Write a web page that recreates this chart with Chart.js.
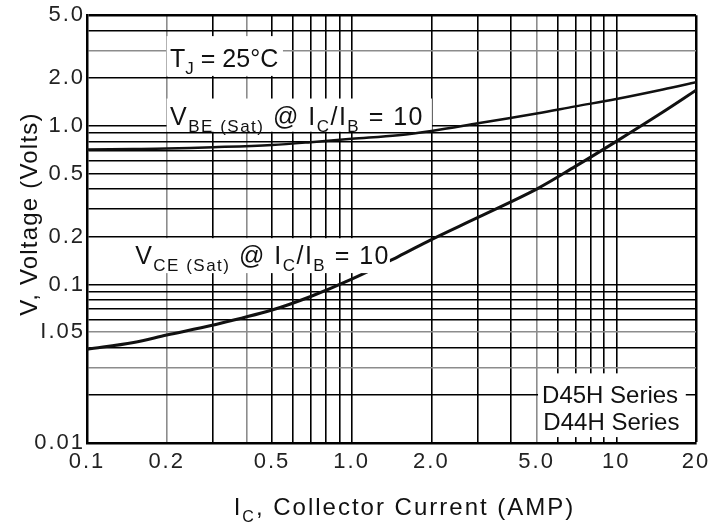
<!DOCTYPE html>
<html>
<head>
<meta charset="utf-8">
<script src="https://cdn.jsdelivr.net/npm/chart.js@4.4.1/dist/chart.umd.min.js"></script>
<style>
  html, body { margin: 0; padding: 0; background: #fff; }
</style>
</head>
<body>
<canvas id="chart" width="720" height="524"></canvas>
<script>
// collector current (A) and the two saturation curves (V)
const currentA = [0.1, 0.15, 0.2, 0.3, 0.5, 0.7, 1.0, 1.5, 2.0, 3.0, 5.0, 7.0, 10, 15, 20];
const vbeSat = [0.71, 0.715, 0.72, 0.735, 0.76, 0.79, 0.83, 0.875, 0.93, 1.04, 1.2, 1.33, 1.48, 1.7, 1.89];
const vceSat = [0.039, 0.0431, 0.048, 0.0555, 0.069, 0.084, 0.108, 0.150, 0.192, 0.265, 0.40, 0.556, 0.80, 1.225, 1.68];

// grid lines and tick labels
const xGrid = [0.1, 0.2, 0.3, 0.4, 0.5, 0.6, 0.7, 0.8, 0.9, 1, 2, 3, 4, 5, 6, 7, 8, 9, 10, 20];
const yGrid = [0.01, 0.02, 0.03, 0.04, 0.05, 0.06, 0.07, 0.08, 0.09, 0.1, 0.2, 0.3, 0.4, 0.5, 0.6, 0.7, 0.8, 0.9, 1, 2, 3, 4, 5];
const xTickValues = [0.1, 0.2, 0.5, 1, 2, 5, 10, 20];
const xTickText = ['0.1', '0.2', '0.5', '1.0', '2.0', '5.0', '10', '20'];
const yTickValues = [5, 2, 1, 0.5, 0.2, 0.1, 0.05, 0.01];
const yTickText = ['5.0', '2.0', '1.0', '0.5', '0.2', '0.1', 'I.05', '0.01'];
const greyX = [0.2, 0.4, 5];
const greyY = [0.03, 0.05, 3];

const FONT = '"Liberation Sans", Arial, sans-serif';

// text boxes on the plot, placed in data units
const notes = [
    { box: [0.2, 0.55, 2.07, 3.69], at: [0.206, 2.36], size: 25, spacing: 0, above: false,
      parts: [['T'], ['J', 1], [' = 25°C']] },
    { box: [0.2, 2.01, 0.92, 1.49], at: [0.206, 1.02], size: 25, spacing: 1.5, above: false,
      parts: [['V'], ['BE (Sat)', 1], [' @ I'], ['C', 1], ['/I'], ['B', 1], [' = 10']] },
    { box: [0.145, 1.395, 0.118, 0.196], at: [0.152, 0.135], size: 25, spacing: 1.5, above: true,
      parts: [['V'], ['CE (Sat)', 1], [' @ I'], ['C', 1], ['/I'], ['B', 1], [' = 10']] },
    { box: [5.06, 18.3, 0.0109, 0.0275], at: [5.24, 0.0178], size: 24, spacing: 0, above: false,
      parts: [['D45H Series']] },
    { box: null, at: [5.3, 0.01205], size: 24, spacing: 0, above: false,
      parts: [['D44H Series']] },
];

function labelFor(value, values, texts) {
    const i = values.findIndex(v => Math.abs(v / value - 1) < 1e-6);
    return i >= 0 ? texts[i] : '';
}

function isIn(value, list) {
    return list.some(v => Math.abs(v / value - 1) < 1e-6);
}

function drawRich(ctx, parts, x, y, size, spacing) {
    ctx.save();
    ctx.fillStyle = '#111';
    ctx.textAlign = 'left';
    ctx.textBaseline = 'alphabetic';
    ctx.letterSpacing = spacing + 'px';
    let cx = x;
    parts.forEach(p => {
        const sub = p[1] === 1;
        ctx.font = (sub ? Math.round(size * 0.68) : size) + 'px ' + FONT;
        ctx.fillText(p[0], cx, y + (sub ? size * 0.28 : 0));
        cx += ctx.measureText(p[0]).width;
    });
    ctx.restore();
    return cx - x;
}

function richWidth(ctx, parts, size, spacing) {
    ctx.save();
    ctx.letterSpacing = spacing + 'px';
    let w = 0;
    parts.forEach(p => {
        const sub = p[1] === 1;
        ctx.font = (sub ? Math.round(size * 0.68) : size) + 'px ' + FONT;
        w += ctx.measureText(p[0]).width;
    });
    ctx.restore();
    return w;
}

function drawNotes(chart, above) {
    const ctx = chart.ctx;
    const sx = chart.scales.x, sy = chart.scales.y;
    notes.filter(n => n.above === above).forEach(n => {
        if (n.box) {
            const x0 = sx.getPixelForValue(n.box[0]), x1 = sx.getPixelForValue(n.box[1]);
            const y0 = sy.getPixelForValue(n.box[3]), y1 = sy.getPixelForValue(n.box[2]);
            ctx.save();
            ctx.fillStyle = '#fff';
            ctx.fillRect(x0, y0, x1 - x0, y1 - y0);
            ctx.restore();
        }
        drawRich(ctx, n.parts, sx.getPixelForValue(n.at[0]), sy.getPixelForValue(n.at[1]), n.size, n.spacing);
    });
}

const decor = {
    id: 'decor',
    beforeDraw(chart) {
        chart.ctx.letterSpacing = '2px';
    },
    beforeDatasetsDraw(chart) {
        drawNotes(chart, false);
    },
    afterDatasetsDraw(chart) {
        drawNotes(chart, true);
        const ctx = chart.ctx;
        const area = chart.chartArea;

        // x axis title with subscript
        const xParts = [['I'], ['C', 1], [', Collector Current (AMP)']];
        const w = richWidth(ctx, xParts, 24, 2);
        drawRich(ctx, xParts, (area.left + area.right) / 2 + 13 - w / 2, area.bottom + 72, 24, 2);

        // y axis title, rotated
        const yParts = [['V, Voltage (Volts)']];
        const wy = richWidth(ctx, yParts, 24, 1.2);
        ctx.save();
        ctx.translate(37, (area.top + area.bottom) / 2 - 15);
        ctx.rotate(-Math.PI / 2);
        drawRich(ctx, yParts, -wy / 2, 0, 24, 1.2);
        ctx.restore();
    }
};

const tickFont = { family: FONT, size: 22 };

new Chart(document.getElementById('chart'), {
    type: 'line',
    data: {
        datasets: [
            {
                label: 'VBE(sat)',
                data: currentA.map((x, i) => ({ x: x, y: vbeSat[i] })),
                borderColor: '#111',
                borderWidth: 2.5,
                pointRadius: 0,
                tension: 0.35,
                fill: false,
            },
            {
                label: 'VCE(sat)',
                data: currentA.map((x, i) => ({ x: x, y: vceSat[i] })),
                borderColor: '#111',
                borderWidth: 3,
                pointRadius: 0,
                tension: 0.35,
                fill: false,
            },
        ],
    },
    options: {
        responsive: false,
        animation: false,
        layout: { padding: { top: 13, right: 24, bottom: 0, left: 0 } },
        plugins: {
            legend: { display: false },
            tooltip: { enabled: false },
        },
        scales: {
            x: {
                type: 'logarithmic',
                min: 0.1,
                max: 20,
                afterBuildTicks: s => { s.ticks = xGrid.map(v => ({ value: v })); },
                afterFit: s => { s.height = 81; },
                grid: {
                    drawTicks: false,
                    color: c => (c.tick && isIn(c.tick.value, greyX)) ? '#8c8c8c' : '#000',
                    lineWidth: c => (c.tick && c.tick.value === 20) ? 2.5 : 1.6,
                },
                border: { display: true, color: '#000', width: 2.5 },
                ticks: {
                    autoSkip: false,
                    maxRotation: 0,
                    padding: 6,
                    color: '#222',
                    font: tickFont,
                    callback: v => labelFor(v, xTickValues, xTickText),
                },
            },
            y: {
                type: 'logarithmic',
                min: 0.01,
                max: 5,
                afterBuildTicks: s => { s.ticks = yGrid.map(v => ({ value: v })); },
                afterFit: s => { s.width = 87; },
                grid: {
                    drawTicks: false,
                    color: c => (c.tick && isIn(c.tick.value, greyY)) ? '#8c8c8c' : '#000',
                    lineWidth: c => (c.tick && c.tick.value === 5) ? 2.5 : 1.6,
                },
                border: { display: true, color: '#000', width: 2.5 },
                ticks: {
                    autoSkip: false,
                    padding: 2,
                    color: '#222',
                    font: tickFont,
                    callback: v => labelFor(v, yTickValues, yTickText),
                },
            },
        },
    },
    plugins: [decor],
});
</script>
</body>
</html>
